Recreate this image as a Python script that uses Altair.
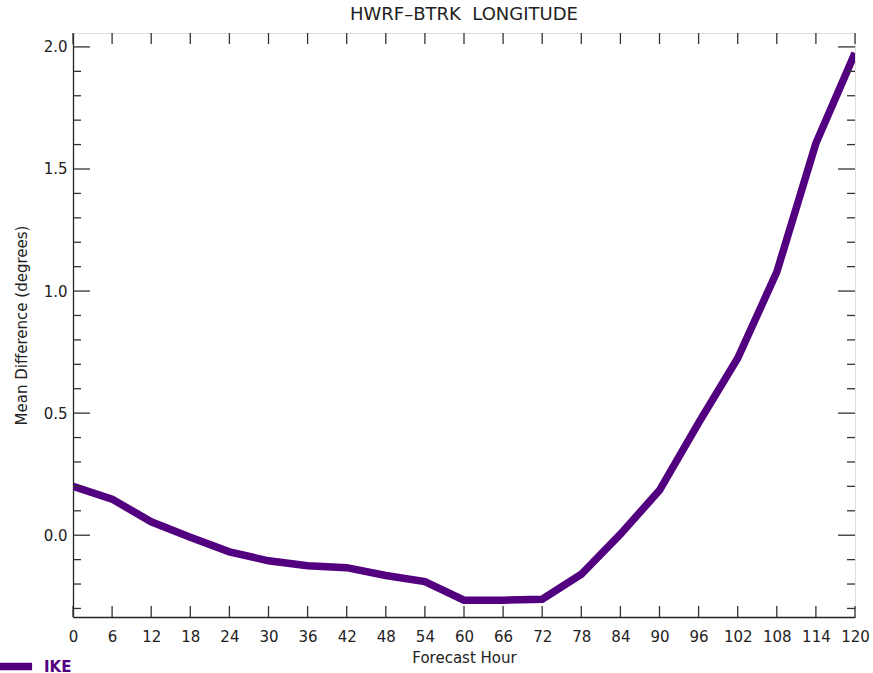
import altair as alt
import pandas as pd

hours = [0, 6, 12, 18, 24, 30, 36, 42, 48, 54, 60, 66, 72, 78, 84, 90, 96, 102, 108, 114, 120]
ike = [0.20, 0.148, 0.055, -0.008, -0.068, -0.105, -0.125, -0.133, -0.165, -0.19, -0.266, -0.266, -0.262,
       -0.16, 0.004, 0.184, 0.46, 0.725, 1.078, 1.605, 1.975]
series = ["IKE"] * len(hours)

x_ticks = list(range(0, 121, 6))
y_major = [0.0, 0.5, 1.0, 1.5, 2.0]
y_minor = [-0.3, -0.2, -0.1, 0.1, 0.2, 0.3, 0.4, 0.6, 0.7, 0.8, 0.9, 1.1, 1.2, 1.3, 1.4,
           1.6, 1.7, 1.8, 1.9]

W, H = 782, 584
FONT = "DejaVu Sans"
INK = "#222222"
PURPLE = "#52007f"

df = pd.DataFrame({"hour": hours, "diff": ike, "storm": series})
xt = pd.DataFrame({"hour": x_ticks})
ymaj = pd.DataFrame({"diff": y_major})
ymin = pd.DataFrame({"diff": y_minor})

xs = alt.Scale(domain=[0, 120], nice=False, zero=False)
ys = alt.Scale(domain=[-0.335, 2.057], nice=False, zero=False)

x_axis = alt.Axis(values=x_ticks, title="Forecast Hour", tickSize=0, labelPadding=12,
                  labelFont=FONT, labelFontSize=15, labelColor=INK, grid=False,
                  labelOverlap=False,
                  titleFont=FONT, titleFontSize=15, titleFontWeight="normal",
                  titleColor=INK, titlePadding=6, domainColor=INK, domainWidth=1.3,
                  labelFlush=False)
y_axis = alt.Axis(values=y_major, format=".1f", title="Mean Difference (degrees)",
                  tickSize=0, labelPadding=6, labelFont=FONT, labelFontSize=15,
                  labelColor=INK, grid=False, titleFont=FONT, titleFontSize=15,
                  titleFontWeight="normal", titleColor=INK, titlePadding=14,
                  domainColor=INK, domainWidth=1.3)

X = alt.X("hour:Q", scale=xs, axis=x_axis, title="Forecast Hour")
Y = alt.Y("diff:Q", scale=ys, axis=y_axis, title="Mean Difference (degrees)")

line = alt.Chart(df).mark_line(strokeWidth=7.5, clip=True).encode(
    x=X, y=Y,
    color=alt.Color("storm:N", scale=alt.Scale(range=[PURPLE]),
                    legend=alt.Legend(title=None, orient="none", legendX=-78, legendY=613,
                                      symbolType="stroke", symbolStrokeWidth=7.5,
                                      symbolSize=1100, labelFont=FONT, labelFontSize=15,
                                      labelFontWeight="bold", labelColor=PURPLE,
                                      labelOffset=8)),
)

tick_color = "#333333"
xb = alt.Chart(xt).mark_rule(color=tick_color, strokeWidth=1.3).encode(
    x=X, y=alt.value(H), y2=alt.value(H - 11))
xtop = alt.Chart(xt).mark_rule(color=tick_color, strokeWidth=1.3).encode(
    x=X, y=alt.value(0), y2=alt.value(11))
ylmaj = alt.Chart(ymaj).mark_rule(color=tick_color, strokeWidth=1.3).encode(
    y=Y, x=alt.value(0), x2=alt.value(17))
ylmin = alt.Chart(ymin).mark_rule(color=tick_color, strokeWidth=1.3).encode(
    y=Y, x=alt.value(0), x2=alt.value(8))
yrmaj = alt.Chart(ymaj).mark_rule(color=tick_color, strokeWidth=1.3).encode(
    y=Y, x=alt.value(W), x2=alt.value(W - 17))
yrmin = alt.Chart(ymin).mark_rule(color=tick_color, strokeWidth=1.3).encode(
    y=Y, x=alt.value(W), x2=alt.value(W - 8))

chart = alt.layer(line, xb, xtop, ylmaj, ylmin, yrmaj, yrmin).properties(
    width=W, height=H,
    title=alt.TitleParams("HWRF\u2013BTRK\u00a0\u00a0LONGITUDE", font=FONT, fontSize=18,
                          fontWeight="normal", color=INK, offset=8),
    autosize=alt.AutoSizeParams(type="none"),
    padding={"left": 73, "top": 33, "right": 18, "bottom": 56},
).configure_view(stroke=INK, strokeWidth=1.3).configure(background="white")

chart.save("out.html", embed_options={"renderer": "svg", "actions": False})
